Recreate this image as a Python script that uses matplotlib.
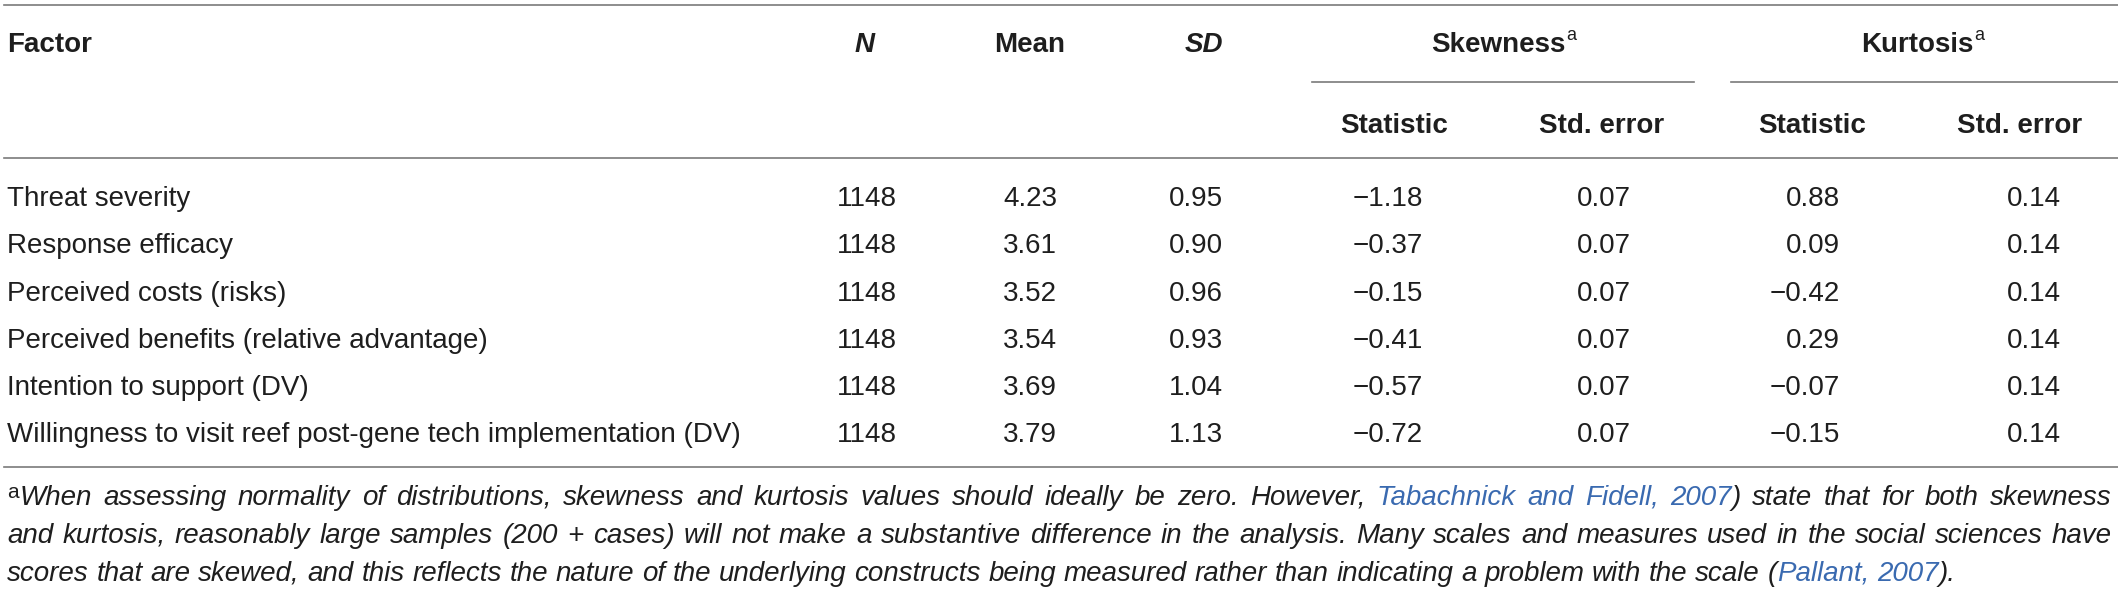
import matplotlib
matplotlib.use("Agg")
from matplotlib import pyplot as plt

# table content
factors = [
    "Threat severity",
    "Response efficacy",
    "Perceived costs (risks)",
    "Perceived benefits (relative advantage)",
    "Intention to support (DV)",
    "Willingness to visit reef post-gene tech implementation (DV)",
]
n_vals = [1148, 1148, 1148, 1148, 1148, 1148]
means = [4.23, 3.61, 3.52, 3.54, 3.69, 3.79]
sds = [0.95, 0.90, 0.96, 0.93, 1.04, 1.13]
skew_stat = [-1.18, -0.37, -0.15, -0.41, -0.57, -0.72]
skew_se = [0.07, 0.07, 0.07, 0.07, 0.07, 0.07]
kurt_stat = [0.88, 0.09, -0.42, 0.29, -0.07, -0.15]
kurt_se = [0.14, 0.14, 0.14, 0.14, 0.14, 0.14]

sub_headers = ["Statistic", "Std. error", "Statistic", "Std. error"]

# {...} marks the blue reference links
footnote = [
    "When assessing normality of distributions, skewness and kurtosis values should ideally be zero. "
    "However, {Tabachnick and Fidell, 2007}) state that for both skewness",
    "and kurtosis, reasonably large samples (200 + cases) will not make a substantive difference "
    "in the analysis. Many scales and measures used in the social sciences have",
    "scores that are skewed, and this reflects the nature of the underlying constructs being measured "
    "rather than indicating a problem with the scale ({Pallant, 2007}).",
]

W, H = 2118, 591
TXT = "#1e1e1e"
RULE = "#7a7a7a"
BLUE = "#3a6ab0"
BODY = ["Liberation Sans", "DejaVu Sans"]
HEAD = ["Liberation Sans Narrow", "Liberation Sans", "DejaVu Sans"]

fig = plt.figure(figsize=(W / 100, H / 100), dpi=100)
ax = fig.add_axes([0, 0, 1, 1])
ax.set_xlim(0, W)
ax.set_ylim(H, 0)
ax.axis("off")
renderer = fig.canvas.get_renderer()


def width(t):
    return t.get_window_extent(renderer).width


def fmt(v):
    return f"{v:.2f}".replace("-", "\u2212")


# rules
ax.plot([4, W], [5, 5], color=RULE, lw=1.2)
ax.plot([1312, 1694], [82, 82], color=RULE, lw=1.2)
ax.plot([1731, W], [82, 82], color=RULE, lw=1.2)
ax.plot([4, W], [158, 158], color=RULE, lw=1.2)
ax.plot([4, W], [467, 467], color=RULE, lw=1.2)

# header
hs = 20
ax.text(7, 52, "Factor", fontsize=hs, fontweight="bold", family=HEAD, color=TXT, va="baseline")
ax.text(865, 52, "N", fontsize=hs, fontweight="bold", style="italic", family=HEAD,
        color=TXT, va="baseline", ha="center")
ax.text(1030, 52, "Mean", fontsize=hs, fontweight="bold", family=HEAD, color=TXT,
        va="baseline", ha="center")
ax.text(1204, 52, "SD", fontsize=hs, fontweight="bold", style="italic", family=HEAD,
        color=TXT, va="baseline", ha="center")

for label, cx in [("Skewness", 1503), ("Kurtosis", 1922)]:
    t = ax.text(0, 52, label, fontsize=hs, fontweight="bold", family=HEAD, color=TXT, va="baseline")
    s = ax.text(0, 40, "a", fontsize=13, family=HEAD, color=TXT, va="baseline")
    wt, ws = width(t), width(s)
    x0 = cx - (wt + ws) / 2
    t.set_x(x0)
    s.set_x(x0 + wt + 1)

for label, cx in zip(sub_headers, [1394, 1602, 1812, 2020]):
    ax.text(cx, 133, label, fontsize=hs, fontweight="bold", family=HEAD, color=TXT,
            va="baseline", ha="center")

# body rows
cols = [
    ([str(v) for v in n_vals], 897),
    ([fmt(v) for v in means], 1057),
    ([fmt(v) for v in sds], 1223),
    ([fmt(v) for v in skew_stat], 1423),
    ([fmt(v) for v in skew_se], 1631),
    ([fmt(v) for v in kurt_stat], 1840),
    ([fmt(v) for v in kurt_se], 2061),
]
bs = 20
for i, name in enumerate(factors):
    y = 206 + 47.3 * i
    ax.text(7, y, name, fontsize=bs, family=BODY, color=TXT, va="baseline")
    for vals, xr in cols:
        ax.text(xr, y, vals[i], fontsize=bs, family=BODY, color=TXT, va="baseline", ha="right")


# footnote, justified like the journal layout
def parse(line):
    words, cur, blue = [], [], False
    buf = ""
    for ch in line:
        if ch in "{}":
            if buf:
                cur.append((buf, BLUE if blue else TXT))
                buf = ""
            blue = ch == "{"
        elif ch == " ":
            if buf:
                cur.append((buf, BLUE if blue else TXT))
                buf = ""
            if cur:
                words.append(cur)
            cur = []
        else:
            buf += ch
    if buf:
        cur.append((buf, BLUE if blue else TXT))
    if cur:
        words.append(cur)
    return words


fs = 20
probe1 = ax.text(100, 300, "a b", fontsize=fs, style="italic", family=BODY)
probe2 = ax.text(100, 300, "ab", fontsize=fs, style="italic", family=BODY)
space_w = width(probe1) - width(probe2)
probe1.remove()
probe2.remove()

sup = ax.text(7, 483, "a", fontsize=15, family=BODY, color=TXT, va="top")
x_start = [7 + width(sup) + 1, 7, 7]
x_end = 2112

for k, line in enumerate(footnote):
    y = 505 + 38 * k
    words = parse(line)
    drawn = []
    for w in words:
        segs = []
        for txt, col in w:
            t = ax.text(0, y, txt, fontsize=fs, style="italic", family=BODY, color=col, va="baseline")
            segs.append((t, width(t)))
        drawn.append(segs)
    total = sum(sw for segs in drawn for _, sw in segs)
    if k < len(footnote) - 1:
        gap = (x_end - x_start[k] - total) / (len(drawn) - 1)
    else:
        gap = space_w
    x = x_start[k]
    for segs in drawn:
        for t, sw in segs:
            t.set_x(x)
            x += sw
        x += gap

fig.savefig("out.png", dpi=100, facecolor="white")
